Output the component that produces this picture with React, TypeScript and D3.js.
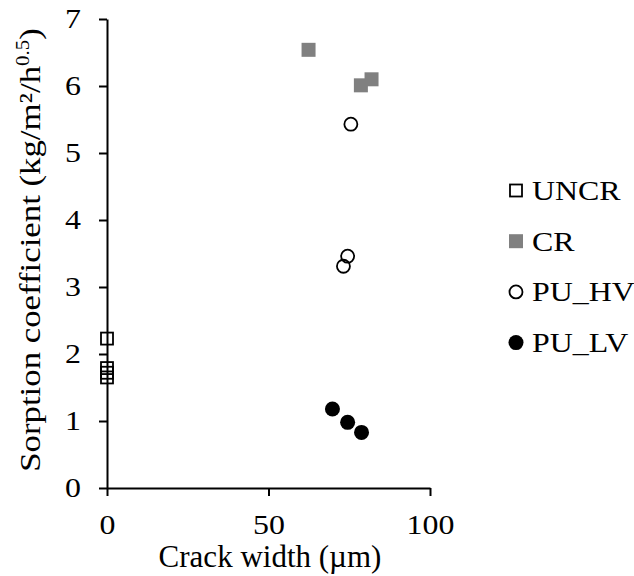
import { useEffect, useRef } from 'react';
import * as d3 from 'd3';

// Crack width (µm) and sorption coefficient (kg/m²/h^0.5) per series
const uncrX = [0, 0, 0, 0];
const uncrY = [2.23, 1.79, 1.72, 1.65];
const crX = [62.4, 78.6, 81.9];
const crY = [6.54, 6.01, 6.1];
const puHvX = [75.5, 74.5, 73.2];
const puHvY = [5.43, 3.46, 3.31];
const puLvX = [69.8, 74.5, 78.8];
const puLvY = [1.18, 0.98, 0.83];

const xTicks = [0, 50, 100];
const yTicks = [0, 1, 2, 3, 4, 5, 6, 7];
const seriesNames = ['UNCR', 'CR', 'PU_HV', 'PU_LV'];

const FONT = '"Liberation Serif", "Times New Roman", serif';
const SX = 1.14; // text in the reference is a bit wider than Liberation Serif

export default function App() {
  const ref = useRef<SVGSVGElement>(null);

  useEffect(() => {
    const svg = d3.select(ref.current);
    svg.selectAll('*').remove();

    const x = d3.scaleLinear().domain([0, 100]).range([107, 430]);
    const y = d3.scaleLinear().domain([0, 7]).range([488, 19]);

    // Axes
    const xAxis = svg.append('g')
      .attr('transform', `translate(0,${y(0)})`)
      .call(d3.axisBottom(x).tickValues(xTicks).tickFormat(d3.format('d'))
        .tickSize(8).tickPadding(18).tickSizeOuter(0));
    const yAxis = svg.append('g')
      .attr('transform', `translate(${x(0)},0)`)
      .call(d3.axisLeft(y).tickValues(yTicks).tickFormat(d3.format('d'))
        .tickSize(8).tickPadding(18).tickSizeOuter(0));

    [xAxis, yAxis].forEach(g => {
      g.attr('font-family', FONT).attr('font-size', 28);
      g.select('.domain').attr('stroke', '#000').attr('stroke-width', 2);
      g.selectAll('.tick line').attr('stroke', '#000').attr('stroke-width', 2);
      g.selectAll('.tick text').attr('fill', '#000').attr('transform', `scale(${SX},1)`);
    });
    yAxis.selectAll('.tick text').attr('x', -26 / SX);

    // Axis titles
    svg.append('text')
      .attr('x', 270)
      .attr('y', 567)
      .attr('text-anchor', 'middle')
      .attr('font-family', FONT)
      .attr('font-size', 31)
      .text('Crack width (µm)');

    const yt = svg.append('text')
      .attr('transform', `translate(40,250) rotate(-90) scale(1.16,1)`)
      .attr('text-anchor', 'middle')
      .attr('font-family', FONT)
      .attr('font-size', 30);
    yt.append('tspan').text('Sorption coefficient  (kg/m²/h');
    yt.append('tspan').attr('font-size', 18).attr('dy', -11).text('0.5');
    yt.append('tspan').attr('dy', 11).text(')');

    const size = 14;

    // UNCR: open squares
    svg.selectAll('.uncr').data(d3.range(uncrX.length)).enter().append('rect')
      .attr('x', i => x(uncrX[i]) - size / 2 + 1)
      .attr('y', i => y(uncrY[i]) - size / 2 + 1)
      .attr('width', size - 2)
      .attr('height', size - 2)
      .attr('fill', 'none')
      .attr('stroke', '#000')
      .attr('stroke-width', 1.8);

    // CR: grey squares
    svg.selectAll('.cr').data(d3.range(crX.length)).enter().append('rect')
      .attr('x', i => x(crX[i]) - size / 2)
      .attr('y', i => y(crY[i]) - size / 2)
      .attr('width', size)
      .attr('height', size)
      .attr('fill', '#808080');

    // PU_HV: open circles
    svg.selectAll('.puhv').data(d3.range(puHvX.length)).enter().append('circle')
      .attr('cx', i => x(puHvX[i]))
      .attr('cy', i => y(puHvY[i]))
      .attr('r', 6.5)
      .attr('fill', 'none')
      .attr('stroke', '#000')
      .attr('stroke-width', 1.8);

    // PU_LV: filled circles
    svg.selectAll('.pulv').data(d3.range(puLvX.length)).enter().append('circle')
      .attr('cx', i => x(puLvX[i]))
      .attr('cy', i => y(puLvY[i]))
      .attr('r', 7.5)
      .attr('fill', '#000');

    // Legend
    const legend = svg.append('g');
    seriesNames.forEach((name, i) => {
      const base = 200 + i * 50.7;
      const g = legend.append('g').attr('transform', `translate(516,${base - 9.5})`);
      if (i === 0) {
        g.append('rect').attr('x', -6).attr('y', -6).attr('width', 12).attr('height', 12)
          .attr('fill', 'none').attr('stroke', '#000').attr('stroke-width', 1.8);
      } else if (i === 1) {
        g.append('rect').attr('x', -7).attr('y', -7).attr('width', 14).attr('height', 14)
          .attr('fill', '#808080');
      } else if (i === 2) {
        g.append('circle').attr('r', 6.5).attr('fill', 'none')
          .attr('stroke', '#000').attr('stroke-width', 1.8);
      } else {
        g.append('circle').attr('r', 7.5).attr('fill', '#000');
      }
      g.append('text')
        .attr('transform', `translate(16,9.5) scale(${SX},1)`)
        .attr('font-family', FONT)
        .attr('font-size', 28)
        .text(name);
    });
  }, []);

  return (
    <svg ref={ref} width={634} height={576}
      style={{ position: 'absolute', left: 0, top: 0, background: '#fff' }} />
  );
}
